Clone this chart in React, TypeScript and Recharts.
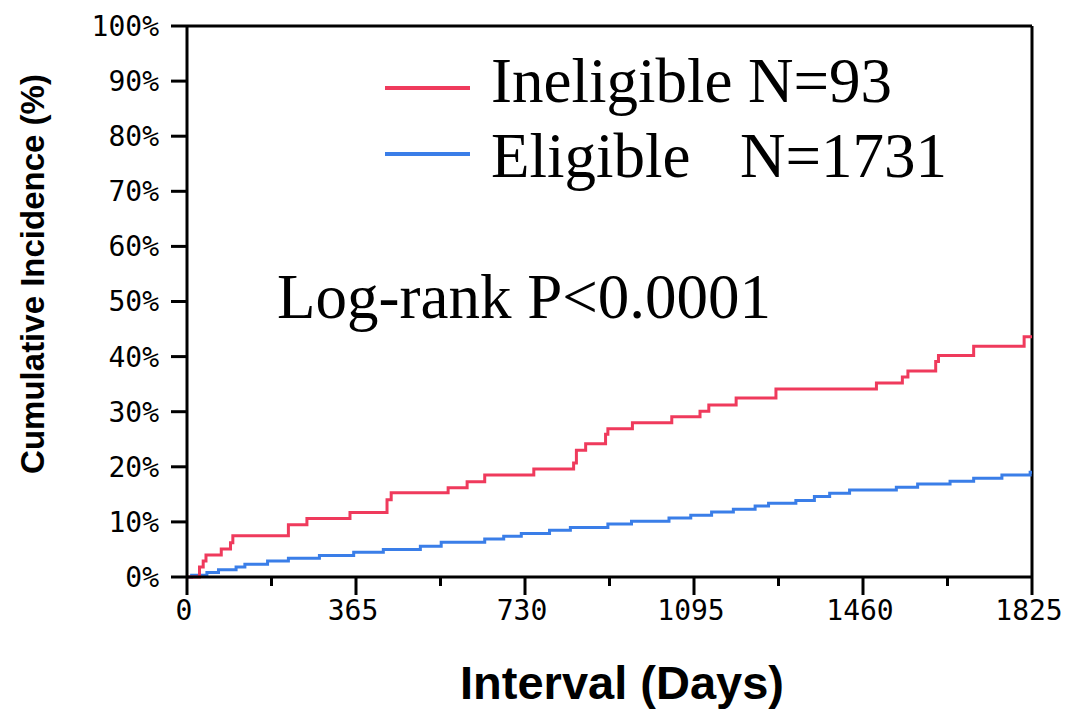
import React from 'react';
import { LineChart, Line, XAxis, YAxis, ReferenceLine } from 'recharts';

// step points (day, cumulative %)
const ineligibleDays = [0, 27, 35, 41, 74, 94, 99, 219, 259, 352, 432, 441, 564, 605, 643, 749, 835, 841, 861, 904, 909, 962, 1047, 1108, 1127, 1186, 1272, 1489, 1545, 1557, 1617, 1623, 1699, 1808, 1825];
const ineligiblePct = [0, 1.8, 2.9, 4.0, 5.1, 6.2, 7.5, 9.5, 10.6, 11.7, 14.0, 15.3, 16.2, 17.3, 18.5, 19.6, 20.7, 23.0, 24.2, 25.9, 26.9, 28.0, 29.1, 30.1, 31.2, 32.5, 34.1, 35.2, 36.3, 37.4, 39.1, 40.2, 41.9, 43.6, 43.6];

const eligibleDays = [0, 10, 43, 68, 106, 125, 174, 219, 286, 360, 424, 504, 549, 643, 684, 722, 783, 828, 909, 960, 1041, 1088, 1133, 1180, 1227, 1256, 1315, 1355, 1388, 1431, 1532, 1578, 1648, 1699, 1760, 1821, 1825];
const eligiblePct = [0, 0.3, 0.8, 1.3, 1.8, 2.3, 2.9, 3.4, 3.9, 4.5, 5.0, 5.6, 6.3, 6.9, 7.4, 7.9, 8.5, 9.0, 9.6, 10.1, 10.7, 11.2, 11.8, 12.3, 12.9, 13.4, 13.9, 14.6, 15.2, 15.8, 16.3, 16.9, 17.4, 17.9, 18.5, 19.0, 19.0];

const yTicks = [0, 10, 20, 30, 40, 50, 60, 70, 80, 90, 100];
const xMajorTicks = [0, 365, 730, 1095, 1460, 1825];
const xMinorTicks = [182.5, 547.5, 912.5, 1277.5, 1642.5];

const legendLabels = ['Ineligible', 'Eligible'];
const legendCounts = ['N=93', 'N=1731'];
const pValueText = 'Log-rank P<0.0001';

const RED = '#ef3a5c';
const BLUE = '#3a7ee8';

const ineligibleData = ineligibleDays.map((d, i) => ({ day: d, pct: ineligiblePct[i] }));
const eligibleData = eligibleDays.map((d, i) => ({ day: d, pct: eligiblePct[i] }));
const allXTicks = [...xMajorTicks, ...xMinorTicks].sort((a, b) => a - b);

const tickFont = '"DejaVu Sans Mono", monospace';
const serif = '"Liberation Serif", "Times New Roman", serif';
const sans = '"Liberation Sans", Arial, sans-serif';

const XTick = (props: any) => {
    const { x, y, payload } = props;
    const major = xMajorTicks.includes(payload.value);
    return (
        <g>
            <line x1={x} y1={y} x2={x} y2={y + (major ? 18 : 9)} stroke="#000" strokeWidth={3} />
            {major && (
                <text x={x - 3} y={y + 43} textAnchor="middle" fontFamily={tickFont} fontSize={28} fill="#000">
                    {payload.value}
                </text>
            )}
        </g>
    );
};

export default function App() {
    return (
        <div style={{ position: 'absolute', left: 0, top: 0, width: 1068, height: 714, background: '#fff' }}>
            <LineChart width={1068} height={714} data={eligibleData} margin={{ top: 26, right: 36, left: 0, bottom: 0 }}>
                <XAxis
                    dataKey="day"
                    type="number"
                    domain={[0, 1825]}
                    ticks={allXTicks}
                    interval={0}
                    height={137}
                    tickSize={0}
                    tickMargin={0}
                    tickLine={false}
                    axisLine={{ stroke: '#000', strokeWidth: 3 }}
                    tick={<XTick />}
                />
                <YAxis
                    dataKey="pct"
                    type="number"
                    domain={[0, 100]}
                    ticks={yTicks}
                    interval={0}
                    width={187}
                    tickSize={16}
                    tickMargin={12}
                    tickFormatter={(v: number) => `${v}%`}
                    axisLine={{ stroke: '#000', strokeWidth: 3 }}
                    tickLine={{ stroke: '#000', strokeWidth: 3 }}
                    tick={{ fontFamily: tickFont, fontSize: 28, fill: '#000' }}
                />
                <ReferenceLine y={100} stroke="#000" strokeWidth={3} />
                <ReferenceLine x={1825} stroke="#000" strokeWidth={3} />
                <Line
                    data={eligibleData}
                    dataKey="pct"
                    type="stepAfter"
                    stroke={BLUE}
                    strokeWidth={3}
                    dot={false}
                    activeDot={false}
                    isAnimationActive={false}
                />
                <Line
                    data={ineligibleData}
                    dataKey="pct"
                    type="stepAfter"
                    stroke={RED}
                    strokeWidth={3}
                    dot={false}
                    activeDot={false}
                    isAnimationActive={false}
                />
            </LineChart>
            <svg width={1068} height={714} style={{ position: 'absolute', left: 0, top: 0, pointerEvents: 'none' }}>
                <text
                    transform="translate(44, 274) rotate(-90)"
                    textAnchor="middle"
                    fontFamily={sans}
                    fontWeight="bold"
                    fontSize={33}
                    fill="#000"
                >
                    Cumulative Incidence (%)
                </text>
                <text x={622} y={699} textAnchor="middle" fontFamily={sans} fontWeight="bold" fontSize={47} fill="#000">
                    Interval (Days)
                </text>
                <line x1={385} y1={88} x2={470} y2={88} stroke={RED} strokeWidth={4} />
                <text x={491} y={102} fontFamily={serif} fontSize={63} fill="#000">
                    {legendLabels[0]}
                    <tspan x={748}>{legendCounts[0]}</tspan>
                </text>
                <line x1={385} y1={154} x2={470} y2={154} stroke={BLUE} strokeWidth={4} />
                <text x={491} y={177} fontFamily={serif} fontSize={63} fill="#000">
                    {legendLabels[1]}
                    <tspan x={740}>{legendCounts[1]}</tspan>
                </text>
                <text x={277} y={318} fontFamily={serif} fontSize={63} fill="#000">
                    {pValueText}
                </text>
            </svg>
        </div>
    );
}
